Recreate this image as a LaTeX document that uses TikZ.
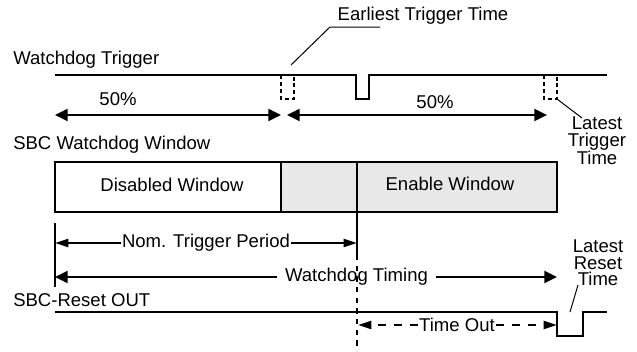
\documentclass[tikz,border=0pt]{standalone}
\usepackage{fontspec}
\setmainfont{Liberation Sans}
\usetikzlibrary{arrows.meta}

\begin{document}
\begin{tikzpicture}[x=0.75pt,y=-0.75pt,
	sig/.style={line width=1.5pt,line join=miter},
	thin/.style={line width=0.75pt},
	dots/.style={line width=1.1pt,dash pattern=on 3pt off 2.2pt},
	big/.style={line width=1.5pt,-{Triangle[length=9.5pt,width=9pt]}},
	bigboth/.style={line width=1.5pt,{Triangle[length=9.5pt,width=9pt]}-{Triangle[length=9.5pt,width=9pt]}},
	small/.style={line width=1.5pt,-{Triangle[length=10pt,width=6pt]}},
	txt/.style={inner sep=0pt,font=\fontsize{13.9pt}{12.5pt}\selectfont}]
	\useasboundingbox (0,0) rectangle (637,351);
	% labels at the left
	\node[txt,anchor=base west] (trig) at (13,64) {Watchdog Trigger};
	\node[txt,anchor=base west] (win) at (13,149) {SBC Watchdog Window};
	\node[txt,anchor=base west] (rst) at (13,306) {SBC-Reset OUT};
	% trigger signal
	\draw[sig] (55,75)--(356,75)--(356,99)--(369,99)--(369,75)--(607,75);
	\draw[dots] (281,75) rectangle (294,99);
	\draw[dots] (544,75) rectangle (557,99);
	\coordinate (E) at (291,65);
	\coordinate (L) at (557,99);
	\node[txt,anchor=base] (early) at (423,20) {Earliest Trigger Time};
	\draw[thin] (380,27)--(330,27)--(E);
	\node[txt,align=center] (late) at (597,141) {Latest\\Trigger\\Time};
	\draw[thin] (L)--(582,118);
	% 50% arrows
	\draw[bigboth] (55,115)--(281,115);
	\draw[bigboth] (287,115)--(547,115);
	\node[txt,anchor=base] (half1) at (118,105) {50\%};
	\node[txt,anchor=base] (half2) at (435,108) {50\%};
	% window
	\fill[gray!18] (281,162) rectangle (557,212);
	\draw[sig] (55,162) rectangle (557,212);
	\draw[sig] (281,162)--(281,212);
	\draw[sig] (357,162)--(357,212);
	\node[txt,anchor=base] (dis) at (172,191) {Disabled Window};
	\node[txt,anchor=base] (ena) at (450,190) {Enable Window};
	% periods
	\draw[sig] (55,223)--(55,287);
	\draw[sig] (357,212)--(357,255);
	\draw[line width=1.5pt,dash pattern=on 4pt off 4pt] (357,255)--(357,351);
	\node[txt,inner xsep=0.5pt] (nom) at (206,243) {Nom. Trigger Period};
	\draw[small] (nom.west)--(55,243);
	\draw[small] (nom.east)--(357,243);
	\node[txt,inner xsep=5.5pt] (wd) at (356.5,277) {Watchdog Timing};
	\draw[big] (wd.west)--(55,277);
	\draw[big] (wd.east)--(557,277);
	% reset signal
	\draw[sig] (55,312)--(557,312)--(557,336)--(583,336)--(583,312)--(607,312);
	\node[txt,inner xsep=1pt] (tout) at (457,325) {Time Out};
	\draw[small,dash pattern=on 6pt off 6pt] (tout.west)--(358,325);
	\draw[small,dash pattern=on 6pt off 6pt] (tout.east)--(557,325);
	\node[txt,align=center] (lrst) at (598,263) {Latest\\Reset\\Time};
	\draw[thin] (578,285)--(570,312);
\end{tikzpicture}
\end{document}
